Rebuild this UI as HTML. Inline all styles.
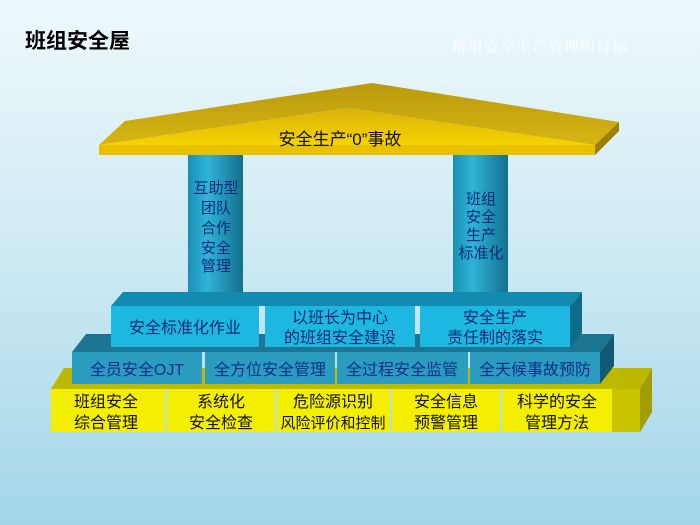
<!DOCTYPE html>
<html><head><meta charset="utf-8"><style>
html,body{margin:0;padding:0;width:700px;height:525px;overflow:hidden}
body{background:linear-gradient(#eef8fb 0%,#d4edf5 40%,#a3d6e8 100%);font-family:"Liberation Sans","Noto Sans CJK SC",sans-serif}
svg{position:absolute;left:0;top:0}
</style></head><body>
<svg width="700" height="525" viewBox="0 0 700 525" xmlns="http://www.w3.org/2000/svg">
<defs>
<linearGradient id="pil" x1="0" x2="1" y1="0" y2="0">
<stop offset="0" stop-color="#1a8fb3"/><stop offset="0.35" stop-color="#2fb4d8"/><stop offset="1" stop-color="#136f8f"/></linearGradient>
<linearGradient id="roofTop" x1="0" x2="0" y1="0" y2="1">
<stop offset="0" stop-color="#b99a0e"/><stop offset="1" stop-color="#d7b512"/></linearGradient>
<linearGradient id="roofFront" x1="0" x2="0" y1="0" y2="1">
<stop offset="0" stop-color="#d9b20a"/><stop offset="1" stop-color="#f5d400"/></linearGradient>
</defs>
<text x="25" y="48" font-size="21" font-weight="bold" fill="#000">班组安全屋</text>
<text x="452" y="52" font-size="15" font-weight="bold" fill="#ffffff" fill-opacity="0.7" font-family="'Liberation Serif','Noto Serif CJK SC',serif" letter-spacing="1">班组安全生产管理的目标</text>

<rect x="188" y="150" width="55" height="160" fill="url(#pil)"/>
<rect x="453" y="150" width="55" height="160" fill="url(#pil)"/>
<g font-size="15" fill="#0d2a7a" text-anchor="middle">
<text x="216" y="193">互助型</text><text x="216" y="213">团队</text><text x="216" y="233">合作</text><text x="216" y="253">安全</text><text x="216" y="271">管理</text>
<text x="481" y="204">班组</text><text x="481" y="222">安全</text><text x="481" y="240">生产</text><text x="481" y="258">标准化</text>
</g>

<polygon points="125,121 372,83 619,122 595,145 348,108 99,145" fill="url(#roofTop)"/>
<polygon points="99,145 348,108 595,145" fill="url(#roofFront)"/>
<polygon points="99,145 595,145 595,155 99,155" fill="#e7c000"/>
<polygon points="595,145 619,122 619,131 595,155" fill="#9c8000"/>
<text x="340" y="145" font-size="17" fill="#111" text-anchor="middle">安全生产“0”事故</text>

<polygon points="51,389 64,368 652,368 640,389" fill="#bdb800"/>
<polygon points="640,389 652,368 652,412 640,432" fill="#a29d00"/>
<g fill="#f4ef00">
<rect x="51" y="389" width="114" height="43"/>
<rect x="167" y="389" width="108" height="43"/>
<rect x="277" y="389" width="113" height="43"/>
<rect x="392" y="389" width="108" height="43"/>
<rect x="502" y="389" width="110" height="43"/>
</g>
<rect x="612" y="389" width="28" height="43" fill="#c9c400"/>
<g font-size="16" fill="#111" text-anchor="middle">
<text x="106" y="407">班组安全</text><text x="106" y="428">综合管理</text>
<text x="221" y="407">系统化</text><text x="221" y="428">安全检查</text>
<text x="333" y="407">危险源识别</text><text x="333" y="428" font-size="15">风险评价和控制</text>
<text x="446" y="407">安全信息</text><text x="446" y="428">预警管理</text>
<text x="557" y="407">科学的安全</text><text x="557" y="428">管理方法</text>
</g>

<polygon points="72,352 86,334 614,334 600,352" fill="#1c7592"/>
<polygon points="600,352 614,334 614,366 600,384" fill="#125a73"/>
<g fill="#2a9cc0">
<rect x="72" y="352" width="130" height="32"/>
<rect x="205" y="352" width="130" height="32"/>
<rect x="337" y="352" width="131" height="32"/>
<rect x="470" y="352" width="130" height="32"/>
</g>
<g font-size="16" fill="#0f2f86" text-anchor="middle">
<text x="137" y="375">全员安全OJT</text>
<text x="270" y="375">全方位安全管理</text>
<text x="402" y="375">全过程安全监管</text>
<text x="535" y="375">全天候事故预防</text>
</g>

<polygon points="111,306 123,292 582,292 570,306" fill="#138ab0"/>
<polygon points="570,306 582,292 582,333 570,347" fill="#0e6c8a"/>
<g fill="#1cb8e2">
<rect x="111" y="306" width="148" height="41"/>
<rect x="265" y="306" width="150" height="41"/>
<rect x="420" y="306" width="150" height="41"/>
</g>
<g font-size="16" fill="#0d2a7a" text-anchor="middle">
<text x="185" y="333">安全标准化作业</text>
<text x="340" y="323">以班长为中心</text><text x="340" y="343">的班组安全建设</text>
<text x="495" y="323">安全生产</text><text x="495" y="343">责任制的落实</text>
</g>
</svg>
</body></html>
